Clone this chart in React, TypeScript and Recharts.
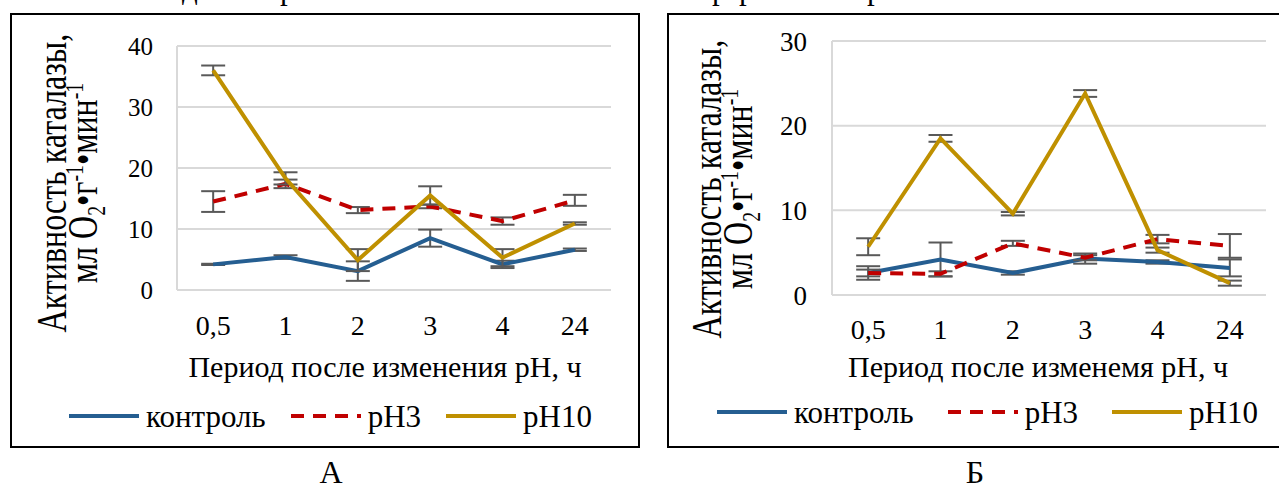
import React from 'react'
import {
  CartesianGrid,
  ErrorBar,
  Legend,
  Line,
  LineChart,
  XAxis,
  YAxis
} from 'recharts'

const serif = "'Liberation Serif', 'Times New Roman', serif"

// period after the pH change, h
const periods = ['0,5', '1', '2', '3', '4', '24']

// panel А
const controlA = [4.2, 5.4, 3.1, 8.5, 4.2, 6.6]
const controlErrA = [0.1, 0.3, 1.6, 1.4, 0.6, 0.2]
const ph3A = [14.5, 17.4, 13.1, 13.7, 11.3, 14.7]
const ph3ErrA = [1.7, 0.7, 0.5, 0.3, 0.6, 0.9]
const ph10A = [36.0, 18.3, 4.9, 15.5, 5.3, 10.9]
const ph10ErrA = [0.8, 1.0, 1.8, 1.5, 1.4, 0.2]
const ticksA = [0, 10, 20, 30, 40]

// panel Б
const controlB = [2.6, 4.2, 2.6, 4.3, 3.9, 3.2]
const controlErrB = [0.8, 2.0, 0.2, 0.6, 0.2, 1.0]
const ph3B = [2.6, 2.5, 6.1, 4.4, 6.6, 5.8]
const ph3ErrB = [0.4, 0.3, 0.3, 0.3, 0.5, 1.4]
const ph10B = [5.7, 18.5, 9.6, 23.8, 5.3, 1.4]
const ph10ErrB = [1.0, 0.4, 0.2, 0.4, 0.3, 0.3]
const ticksB = [0, 10, 20, 30]

const series = [
  { key: 'ctrl', name: 'контроль', color: '#255e91', dash: undefined },
  { key: 'ph3', name: 'pH3', color: '#c00000', dash: '13 9' },
  { key: 'ph10', name: 'pH10', color: '#bf9000', dash: undefined }
]

const buildRows = (
  ctrl: number[], ctrlErr: number[],
  ph3: number[], ph3Err: number[],
  ph10: number[], ph10Err: number[]
) =>
  periods.map((t, i) => ({
    t,
    ctrl: ctrl[i], ctrlErr: ctrlErr[i],
    ph3: ph3[i], ph3Err: ph3Err[i],
    ph10: ph10[i], ph10Err: ph10Err[i]
  }))

const dataA = buildRows(controlA, controlErrA, ph3A, ph3ErrA, ph10A, ph10ErrA)
const dataB = buildRows(controlB, controlErrB, ph3B, ph3ErrB, ph10B, ph10ErrB)

const grid = '#d9d9d9'

function LegendRow({ gap }: { gap: number }) {
  return (
    <div style={{ display: 'flex', fontFamily: serif, fontSize: 31, lineHeight: '31px', color: '#000', whiteSpace: 'nowrap' }}>
      {series.map((s) => (
        <div key={s.key} style={{ display: 'flex', alignItems: 'center', marginRight: gap }}>
          <svg width={70} height={6} style={{ marginRight: 7, position: 'relative', top: -1 }}>
            <line x1={0} y1={3} x2={70} y2={3} stroke={s.color} strokeWidth={4} strokeDasharray={s.dash} />
          </svg>
          <span>{s.name}</span>
        </div>
      ))}
    </div>
  )
}

type PanelProps = {
  left: number
  width: number
  data: ReturnType<typeof buildRows>
  ticks: number[]
  yAxisWidth: number
  top: number
  right: number
  xAxisHeight: number
  yTickSize: number
  yTickGap: number
  xTickGap: number
  legendLeft: number
  legendTop: number
  legendGap: number
}

function Panel(p: PanelProps) {
  return (
    <div style={{ position: 'absolute', left: p.left, top: 0 }}>
      <LineChart
        width={p.width}
        height={486}
        data={p.data}
        margin={{ top: p.top, right: p.right, bottom: 0, left: 0 }}
      >
        <CartesianGrid vertical={false} stroke={grid} strokeWidth={2} />
        <XAxis
          dataKey="t"
          scale="band"
          height={p.xAxisHeight}
          axisLine={{ stroke: grid, strokeWidth: 2 }}
          tickLine={false}
          tickSize={0}
          tickMargin={p.xTickGap}
          interval={0}
          tick={{ fill: '#000', fontSize: 28, fontFamily: serif }}
        />
        <YAxis
          width={p.yAxisWidth}
          domain={[0, p.ticks[p.ticks.length - 1]]}
          ticks={p.ticks}
          axisLine={{ stroke: grid, strokeWidth: 2 }}
          tickLine={false}
          tickSize={0}
          tickMargin={p.yTickGap}
          tick={{ fill: '#000', fontSize: p.yTickSize, fontFamily: serif }}
        />
        <YAxis
          yAxisId="frame"
          orientation="right"
          width={0}
          tick={false}
          tickLine={false}
          axisLine={{ stroke: grid, strokeWidth: 2 }}
        />
        {series.map((s) => (
          <Line
            key={s.key}
            type="linear"
            dataKey={s.key}
            name={s.name}
            stroke={s.color}
            strokeWidth={4}
            strokeDasharray={s.dash}
            dot={false}
            activeDot={false}
            isAnimationActive={false}
          >
            <ErrorBar
              dataKey={s.key + 'Err'}
              width={12}
              strokeWidth={2}
              stroke="#595959"
              isAnimationActive={false}
            />
          </Line>
        ))}
        <Legend
          layout="horizontal"
          verticalAlign="middle"
          align="center"
          wrapperStyle={{ left: p.legendLeft, top: p.legendTop, width: 'auto', height: 'auto' }}
          content={() => <LegendRow gap={p.legendGap} />}
        />
      </LineChart>
    </div>
  )
}

function YTitle({ cx, cy }: { cx: number; cy: number }) {
  const small = { fontSize: '0.62em', lineHeight: 0, position: 'relative' as const }
  return (
    <div
      style={{
        position: 'absolute',
        left: cx - 170,
        top: cy - 24,
        width: 340,
        height: 48,
        transform: 'rotate(-90deg) scaleY(1.3)',
        textAlign: 'center',
        fontFamily: serif,
        fontSize: 32,
        lineHeight: '24px',
        whiteSpace: 'nowrap',
        color: '#000'
      }}
    >
      <div>Активность каталазы,</div>
      <div>
        мл O<span style={{ ...small, top: '0.28em' }}>2</span>•г
        <span style={{ ...small, top: '-0.55em' }}>-1</span>•мин
        <span style={{ ...small, top: '-0.55em' }}>-1</span>
      </div>
    </div>
  )
}

function Caption({ cx, top, size, children }: { cx: number; top: number; size: number; children: React.ReactNode }) {
  return (
    <div
      style={{
        position: 'absolute',
        left: cx - 300,
        top,
        width: 600,
        textAlign: 'center',
        fontFamily: serif,
        fontSize: size,
        lineHeight: size + 'px',
        whiteSpace: 'nowrap',
        color: '#000'
      }}
    >
      {children}
    </div>
  )
}

export default function App() {
  return (
    <div style={{ position: 'absolute', left: 0, top: 0, width: 1279, height: 486, background: '#fff', overflow: 'hidden' }}>
      {/* bottom of the text line above the figure, cut off by the crop */}
      <div style={{ position: 'absolute', left: 0, top: -27, width: 1279, height: 40, fontFamily: serif, fontSize: 31, lineHeight: '31px' }}>
        <span style={{ position: 'absolute', left: 182 }}>д</span>
        <span style={{ position: 'absolute', left: 280 }}>р</span>
        <span style={{ position: 'absolute', left: 712 }}>р</span>
        <span style={{ position: 'absolute', left: 739 }}>р</span>
        <span style={{ position: 'absolute', left: 867 }}>р</span>
      </div>

      <div style={{ position: 'absolute', left: 10, top: 13, width: 630, height: 435, border: '2px solid #000', boxSizing: 'border-box' }} />
      <div style={{ position: 'absolute', left: 667, top: 13, width: 640, height: 435, border: '2px solid #000', boxSizing: 'border-box' }} />

      <Panel
        left={0}
        width={640}
        data={dataA}
        ticks={ticksA}
        yAxisWidth={177}
        top={46}
        right={29}
        xAxisHeight={196}
        yTickSize={25}
        yTickGap={24}
        xTickGap={25}
        legendLeft={69}
        legendTop={401}
        legendGap={25}
      />
      <Panel
        left={640}
        width={639}
        data={dataB}
        ticks={ticksB}
        yAxisWidth={192}
        top={41}
        right={13}
        xAxisHeight={191}
        yTickSize={27}
        yTickGap={25}
        xTickGap={24}
        legendLeft={77}
        legendTop={397}
        legendGap={34}
      />

      <YTitle cx={67} cy={183} />
      <YTitle cx={722} cy={189} />

      <Caption cx={385} top={352} size={30}>Период после изменения pH, ч</Caption>
      <Caption cx={1038} top={352} size={30}>Период после изменемя pH, ч</Caption>

      <Caption cx={331} top={456} size={32}>А</Caption>
      <Caption cx={975} top={456} size={32}>Б</Caption>
    </div>
  )
}
